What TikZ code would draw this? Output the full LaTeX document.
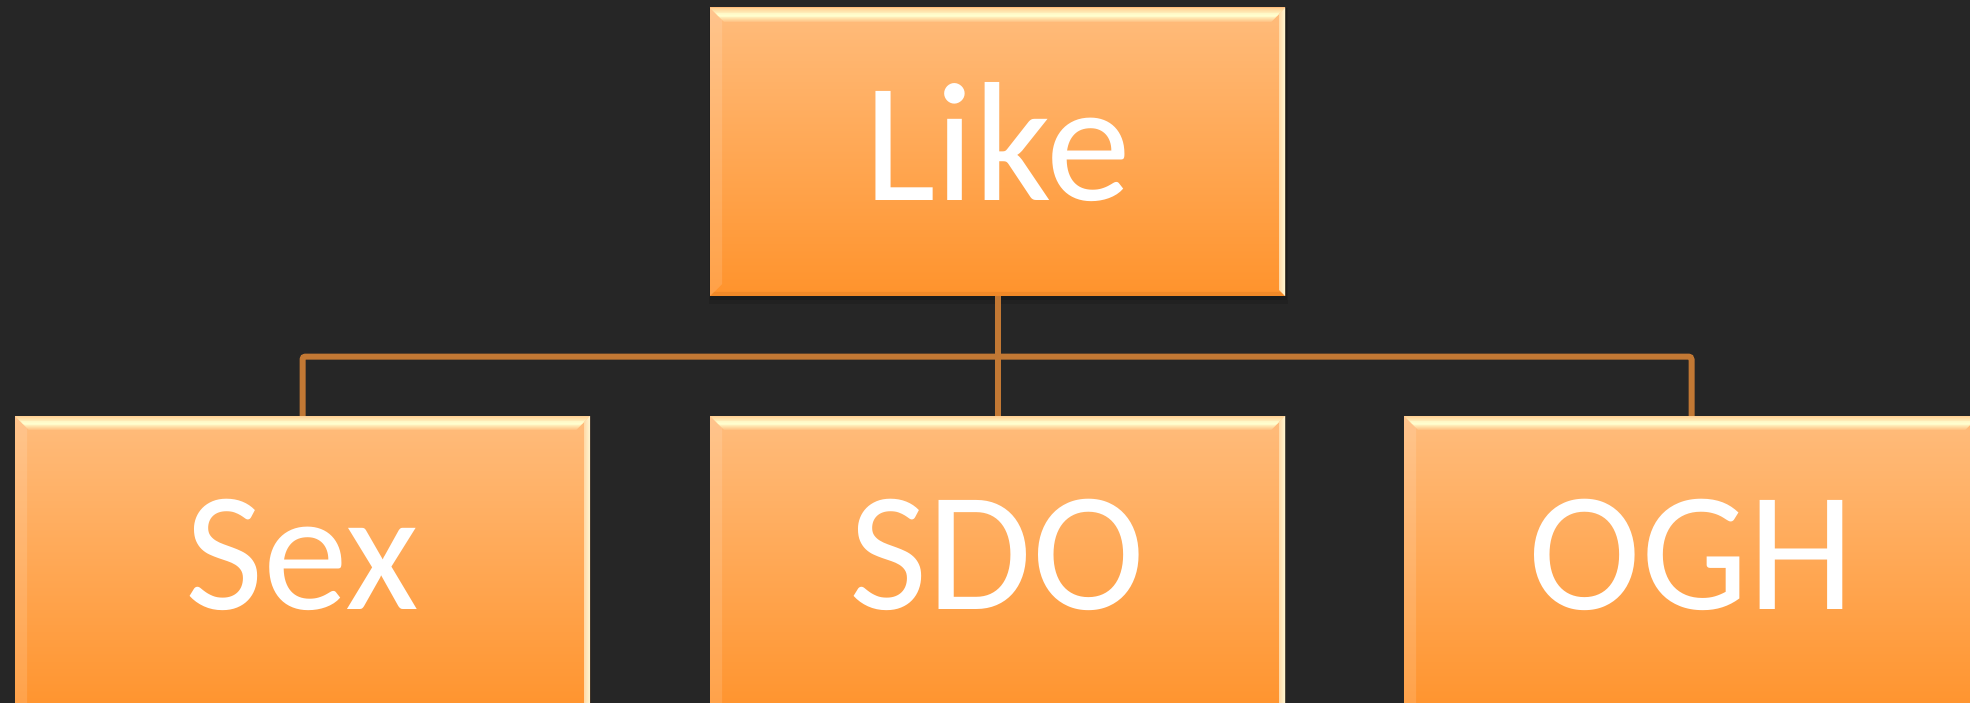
\documentclass[tikz,border=0pt]{standalone}
\usepackage{fontspec}
\newfontfamily\boxfont{Carlito}
\usetikzlibrary{calc}
\definecolor{bgcol}{RGB}{38,38,38}
\definecolor{boxtop}{RGB}{255,188,124}
\definecolor{boxbot}{RGB}{255,147,44}
\definecolor{linecol}{RGB}{194,120,52}
\definecolor{bevlight}{RGB}{255,254,206}
\definecolor{bevedge}{RGB}{255,210,150}
\definecolor{bevright}{RGB}{255,248,212}
\definecolor{bevdark}{RGB}{225,125,35}
\pgfdeclarelayer{bglayer}
\pgfsetlayers{bglayer,main}
\tikzset{
  orgbox/.style={
    minimum width=575pt, minimum height=288pt, inner sep=0pt,
    text=white, font={\boxfont\fontsize{170pt}{170pt}\selectfont},
    text height=120pt, text depth=22pt,
    top color=boxtop, bottom color=boxbot, draw=none,
    path picture={
      \coordinate (NW) at (path picture bounding box.north west);
      \coordinate (NE) at (path picture bounding box.north east);
      \coordinate (SW) at (path picture bounding box.south west);
      \coordinate (SE) at (path picture bounding box.south east);
      % left bevel
      \fill[white, opacity=0.13] (NW) -- ([xshift=12pt,yshift=-12pt]NW) -- ([xshift=12pt,yshift=12pt]SW) -- (SW) -- cycle;
      % bottom bevel
      \fill[bevdark, opacity=0.45] (SW) -- (SE) -- ([xshift=-4pt,yshift=4pt]SE) -- ([xshift=4pt,yshift=4pt]SW) -- cycle;
      % top bevel
      \shade[top color=bevedge, bottom color=boxtop, middle color=bevlight]
        (NW) -- (NE) -- ([xshift=-14pt,yshift=-14pt]NE) -- ([xshift=14pt,yshift=-14pt]NW) -- cycle;
      \fill[bevlight, opacity=0.6] ([xshift=6pt,yshift=-5pt]NW) -- ([xshift=-6pt,yshift=-5pt]NE) -- ([xshift=-10pt,yshift=-9pt]NE) -- ([xshift=10pt,yshift=-9pt]NW) -- cycle;
      % right bevel
      \shade[left color=boxtop!50!bevright, right color=bevright]
        (NE) -- (SE) -- ([xshift=-6pt,yshift=6pt]SE) -- ([xshift=-6pt,yshift=-6pt]NE) -- cycle;
    }
  },
  lowbox/.style={orgbox, minimum height=300pt, text depth=34pt},
  conn/.style={line width=6pt, draw=linecol, rounded corners=3pt}
}
\begin{document}
\begin{tikzpicture}[x=1pt,y=-1pt]
\useasboundingbox (0,0) rectangle (1970,703);
\node[orgbox] (like) at (997.5,152) {Like};
\node[lowbox] (sex)  at (302.5,566) {Sex};
\node[lowbox] (sdo)  at (997.5,566) {SDO};
\node[lowbox] (ogh)  at (1691.5,566) {OGH};
\coordinate (bus) at (997.5,356.5);
\begin{pgfonlayer}{bglayer}
  \fill[bgcol] (0,0) rectangle (1970,703);
  \fill[black, opacity=0.12] ([xshift=-1pt,yshift=-8pt]like.south west) rectangle ([xshift=3pt]like.north east);
  \fill[black, opacity=0.15] ([xshift=0pt,yshift=-4pt]like.south west) rectangle ([xshift=2pt]like.north east);
  \draw[conn] (like.south) -- (sdo.north);
  \draw[conn] (sex.north) -- (sex.north |- bus) -- (ogh.north |- bus) -- (ogh.north);
\end{pgfonlayer}
\end{tikzpicture}
\end{document}
